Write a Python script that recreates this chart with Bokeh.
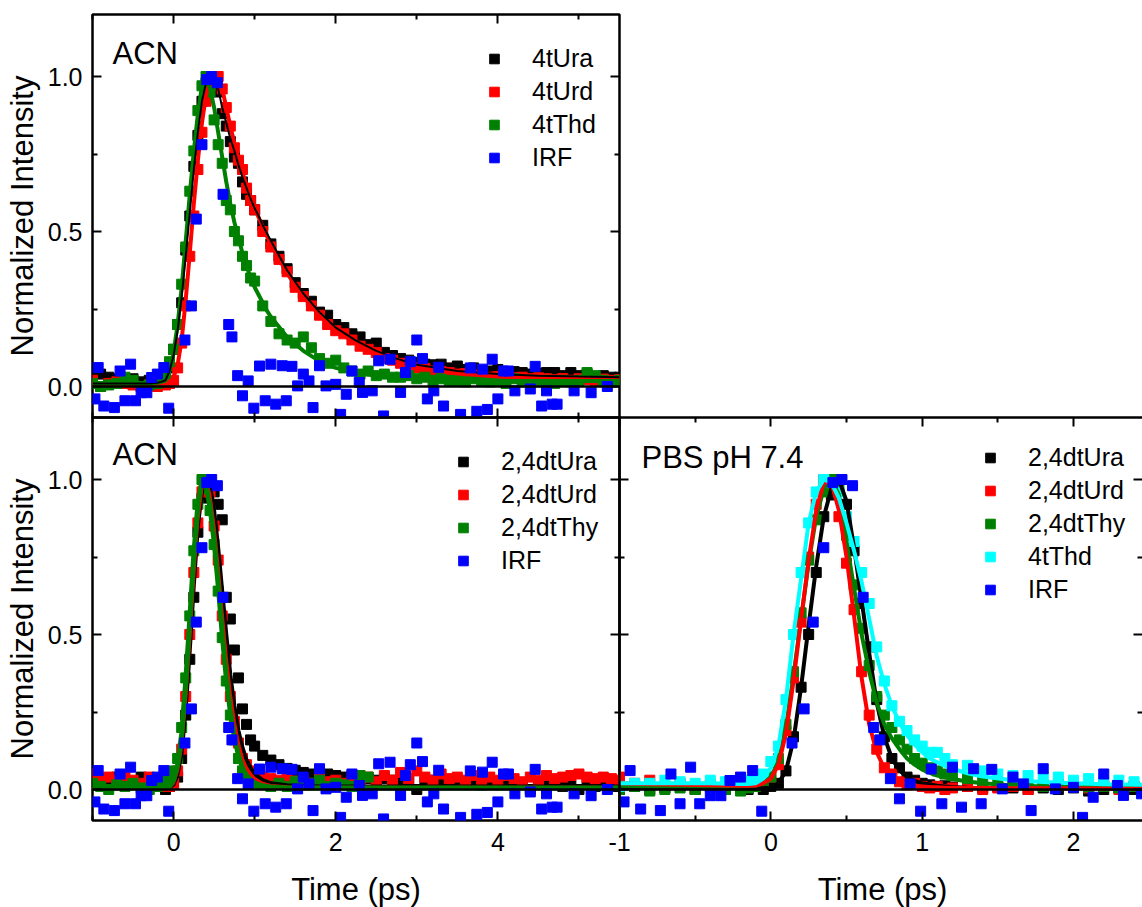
import math
from bokeh.plotting import figure
from bokeh.models import (Range1d, LinearAxis, FixedTicker, PrintfTickFormatter,
                          CustomJSTickFormatter, Span, Label, Legend, LegendItem, GridBox, Column)
from bokeh.embed import file_html
from bokeh.resources import INLINE

# ---------------- data ----------------
# time grid of the measured points, left-hand panels (ps)
TIME_L = [-1.0, -0.9, -0.8, -0.7, -0.6, -0.5, -0.4, -0.3, -0.2,
          -0.15, -0.1, -0.05, 0.0, 0.05, 0.1, 0.15, 0.2, 0.25, 0.3, 0.35, 0.4, 0.45, 0.5,
          0.55, 0.6, 0.65, 0.7, 0.75, 0.8, 0.85, 0.9, 0.95, 1.0,
          1.1, 1.2, 1.3, 1.4, 1.5, 1.6, 1.7, 1.8, 1.9, 2.0, 2.1, 2.2, 2.3, 2.4, 2.5, 2.6, 2.7,
          2.8, 2.9, 3.0, 3.1, 3.2, 3.3, 3.4, 3.5, 3.6, 3.7, 3.8, 3.9, 4.0, 4.1, 4.2, 4.3, 4.4,
          4.5, 4.6, 4.7, 4.8, 4.9, 5.0, 5.1, 5.2, 5.3, 5.4, 5.5]

# top-left panel (ACN)
TL_4tUra = [0.045, 0.04, 0.03, 0.025, 0.02, 0.025, 0.015, 0.02, 0.01,
            0.025, 0.02, 0.06, 0.12, 0.2, 0.27, 0.44, 0.55, 0.71, 0.81, 0.92, 0.98, 1.0, 0.98,
            0.95, 0.88, 0.84, 0.79, 0.74, 0.72, 0.66, 0.62, 0.6, 0.57,
            0.52, 0.46, 0.42, 0.38, 0.335, 0.3, 0.275, 0.24, 0.23, 0.2, 0.19, 0.17, 0.16, 0.135,
            0.14, 0.11, 0.1, 0.09, 0.085, 0.078, 0.072, 0.07, 0.072, 0.06, 0.066, 0.055, 0.06,
            0.05, 0.05, 0.055, 0.045, 0.048, 0.045, 0.04, 0.042, 0.045, 0.045, 0.035, 0.045,
            0.035, 0.04, 0.03, 0.035, 0.03, 0.03]
TL_4tUrd = [0.02, 0.0, 0.01, 0.015, 0.01, 0.005, 0.0, 0.005, 0.0,
            0.01, 0.005, 0.01, 0.02, 0.06, 0.14, 0.26, 0.42, 0.55, 0.7, 0.82, 0.92, 0.97, 1.0,
            1.0, 0.96, 0.9, 0.84, 0.77, 0.73, 0.7, 0.64, 0.6, 0.57,
            0.5, 0.45, 0.41, 0.37, 0.32, 0.29, 0.26, 0.23, 0.2, 0.18, 0.17, 0.15, 0.13, 0.12,
            0.11, 0.09, 0.085, 0.075, 0.07, 0.06, 0.058, 0.05, 0.048, 0.045, 0.04, 0.042, 0.035,
            0.038, 0.03, 0.032, 0.03, 0.028, 0.03, 0.025, 0.028, 0.025, 0.022, 0.026, 0.02,
            0.025, 0.022, 0.02, 0.024, 0.02, 0.022]
TL_4tThd = [0.01, 0.0, 0.005, 0.01, 0.03, 0.02, 0.0, 0.005, 0.01,
            0.02, 0.04, 0.08, 0.12, 0.2, 0.33, 0.45, 0.63, 0.76, 0.89, 0.97, 1.0, 0.95, 0.86,
            0.78, 0.72, 0.6, 0.57, 0.5, 0.47, 0.42, 0.39, 0.35, 0.34,
            0.26, 0.21, 0.17, 0.15, 0.14, 0.16, 0.125, 0.09, 0.075, 0.085, 0.06, 0.05, 0.04, 0.05,
            0.035, 0.04, 0.03, 0.03, 0.035, 0.025, 0.03, 0.02, 0.025, 0.02, 0.02, 0.015, 0.025,
            0.02, 0.015, 0.02, 0.01, 0.025, 0.015, 0.02, 0.015, 0.02, 0.01, 0.02, 0.015, 0.02,
            0.045, 0.035, 0.02, 0.015, 0.02]

# bottom-left panel (ACN)
BL_24dtUra = [0.03, 0.02, 0.025, 0.04, 0.03, 0.02, 0.04, 0.03, 0.01,
              0.02, 0.0, 0.01, 0.02, 0.04, 0.1, 0.24, 0.42, 0.62, 0.83, 0.94, 0.99, 1.0, 0.96,
              0.92, 0.87, 0.62, 0.55, 0.45, 0.36, 0.26, 0.21, 0.16, 0.14,
              0.11, 0.095, 0.08, 0.068, 0.062, 0.055, 0.05, 0.06, 0.05, 0.045, 0.04, 0.045, 0.04,
              0.035, 0.03, 0.035, 0.03, 0.025, 0.03, 0.0, 0.025, 0.03, 0.02, 0.025, 0.03, 0.02,
              0.025, 0.015, 0.02, 0.02, 0.025, 0.015, 0.02, 0.0, 0.02, 0.015, 0.02, 0.01, 0.015,
              0.0, 0.02, 0.01, 0.015, 0.01, 0.01]
BL_24dtUrd = [0.05, 0.03, 0.04, 0.03, 0.045, 0.03, 0.02, 0.04, 0.035,
              0.02, 0.01, 0.01, 0.02, 0.06, 0.13, 0.3, 0.5, 0.7, 0.86, 0.96, 1.0, 0.96, 0.85,
              0.74, 0.56, 0.42, 0.3, 0.22, 0.15, 0.1, 0.08, 0.06, 0.05,
              0.04, 0.035, 0.03, 0.035, 0.025, 0.03, 0.02, 0.035, 0.025, 0.03, 0.02, 0.035, 0.03,
              0.04, 0.025, 0.045, 0.03, 0.055, 0.035, 0.06, 0.04, 0.03, 0.05, 0.035, 0.04, 0.03,
              0.045, 0.025, 0.04, 0.03, 0.045, 0.035, 0.025, 0.04, 0.03, 0.045, 0.035, 0.04,
              0.045, 0.05, 0.04, 0.035, 0.04, 0.035, 0.03]
BL_24dtThy = [0.02, 0.01, 0.0, 0.015, 0.01, 0.02, 0.005, 0.0, 0.01,
              0.03, 0.02, 0.04, 0.06, 0.1, 0.2, 0.36, 0.56, 0.77, 0.92, 1.0, 0.97, 0.9, 0.79,
              0.64, 0.49, 0.35, 0.24, 0.16, 0.1, 0.06, 0.04, 0.03, 0.02,
              0.015, 0.01, 0.02, 0.01, 0.025, 0.015, 0.02, 0.03, 0.01, 0.02, 0.015, 0.01, 0.045,
              0.04]

# instrument response function (same measurement in all panels)
IRF_T = [-0.97, -0.93, -0.86, -0.73, -0.66, -0.6, -0.53, -0.47, -0.4, -0.33,
         -0.27, -0.2, -0.12, -0.06, 0.14, 0.22, 0.28, 0.35, 0.41, 0.47,
         0.54, 0.61, 0.68, 0.72, 0.79, 0.85, 0.92, 0.99, 1.06, 1.13,
         1.2, 1.26, 1.34, 1.39, 1.46, 1.53, 1.6, 1.67, 1.72, 1.8,
         1.88, 2.0, 2.06, 2.13, 2.2, 2.29, 2.33, 2.45, 2.53, 2.59,
         2.67, 2.8, 2.86, 2.92, 3.0, 3.07, 3.13, 3.21, 3.27, 3.33,
         3.54, 3.66, 3.74, 3.81, 3.87, 3.93, 4.0, 4.07, 4.13, 4.21,
         4.4, 4.46, 4.54, 4.6, 4.67, 4.73, 4.94, 5.15, 5.35]
IRF_V = [-0.04, 0.061, -0.063, -0.068, 0.05, -0.046, 0.072, -0.046, -0.02, -0.02,
         0.029, 0.04, 0.061, -0.07, 0.15, 0.26, 0.54, 0.78, 0.99, 1.0,
         0.98, 0.62, 0.2, 0.16, 0.035, -0.03, 0.018, -0.07, 0.066, -0.046,
         0.072, -0.057, 0.067, -0.046, 0.065, 0.002, 0.04, 0.018, -0.068, 0.067,
         0.002, 0.007, -0.09, -0.025, 0.05, 0.013, -0.019, -0.014, 0.083, -0.095,
         0.088, -0.019, 0.045, 0.08, 0.15, 0.09, -0.04, -0.014, 0.062, -0.063,
         -0.09, 0.06, -0.08, 0.056, -0.074, 0.088, -0.04, 0.05, 0.05, -0.014,
         -0.008, 0.065, -0.063, -0.014, -0.057, -0.057, -0.014, -0.02, 0.0]

# fitted curves, left-hand panels
FIT_T_L = [-1.0, -0.5, -0.3, -0.2,
           -0.15, -0.1, -0.05, 0.0, 0.05, 0.1, 0.15, 0.2, 0.25, 0.3, 0.35, 0.4, 0.45, 0.5,
           0.55, 0.6, 0.65, 0.7, 0.75, 0.8, 0.85, 0.9, 0.95, 1.0, 1.05, 1.1, 1.15, 1.2,
           1.4, 1.6, 1.8, 2.0, 2.25, 2.5, 2.75, 3.0, 3.5, 4.0, 4.5, 5.0, 5.5]
TL_4tUra_FIT = [0.01, 0.01, 0.01, 0.012,
                0.015, 0.02, 0.05, 0.1, 0.18, 0.29, 0.42, 0.56, 0.7, 0.82, 0.92, 0.98, 1.0, 0.99,
                0.96, 0.9, 0.85, 0.8, 0.76, 0.715, 0.675, 0.64, 0.605, 0.575, 0.55, 0.52, 0.495, 0.47,
                0.375, 0.3, 0.24, 0.19, 0.148, 0.115, 0.09, 0.07, 0.05, 0.04, 0.035, 0.032, 0.03]
TL_4tUrd_FIT = [0.005, 0.005, 0.005, 0.005,
                0.005, 0.006, 0.01, 0.03, 0.07, 0.15, 0.28, 0.43, 0.59, 0.73, 0.85, 0.94, 0.985, 1.0,
                0.99, 0.96, 0.9, 0.84, 0.785, 0.735, 0.69, 0.65, 0.61, 0.575, 0.545, 0.515, 0.485, 0.46,
                0.365, 0.29, 0.23, 0.18, 0.14, 0.105, 0.08, 0.062, 0.042, 0.032, 0.027, 0.025, 0.024]
TL_4tThd_FIT = [0.01, 0.01, 0.01, 0.012,
                0.015, 0.02, 0.05, 0.11, 0.2, 0.32, 0.47, 0.62, 0.76, 0.88, 0.97, 1.0, 0.96, 0.9,
                0.82, 0.74, 0.66, 0.59, 0.53, 0.48, 0.43, 0.39, 0.35, 0.32, 0.295, 0.27, 0.245, 0.225,
                0.16, 0.115, 0.082, 0.06, 0.045, 0.035, 0.028, 0.024, 0.02, 0.018, 0.018, 0.018, 0.018]
BL_24dtUra_FIT = [0.005, 0.005, 0.005, 0.005,
                  0.005, 0.005, 0.008, 0.015, 0.05, 0.12, 0.26, 0.45, 0.66, 0.85, 0.96, 1.0, 0.98, 0.9,
                  0.78, 0.64, 0.5, 0.37, 0.27, 0.19, 0.135, 0.095, 0.07, 0.05, 0.04, 0.03, 0.025, 0.02,
                  0.014, 0.011, 0.01, 0.01, 0.01, 0.01, 0.01, 0.01, 0.01, 0.01, 0.01, 0.01, 0.01]
BL_24dtUrd_FIT = [0.005, 0.005, 0.005, 0.005,
                  0.005, 0.005, 0.008, 0.02, 0.06, 0.14, 0.29, 0.48, 0.69, 0.87, 0.97, 1.0, 0.95, 0.85,
                  0.72, 0.57, 0.43, 0.31, 0.22, 0.15, 0.1, 0.068, 0.05, 0.035, 0.027, 0.02, 0.016, 0.013,
                  0.009, 0.008, 0.007, 0.007, 0.007, 0.007, 0.007, 0.007, 0.007, 0.007, 0.007, 0.007, 0.007]
BL_24dtThy_FIT = [0.005, 0.005, 0.005, 0.005,
                  0.005, 0.005, 0.01, 0.03, 0.08, 0.18, 0.35, 0.55, 0.76, 0.92, 1.0, 0.98, 0.91, 0.8,
                  0.66, 0.5, 0.36, 0.25, 0.17, 0.11, 0.07, 0.045, 0.03, 0.022, 0.016, 0.012, 0.01, 0.008,
                  0.005, 0.005, 0.005, 0.005, 0.005, 0.005, 0.005, 0.005, 0.005, 0.005, 0.005, 0.005, 0.005]

# bottom-right panel (PBS pH 7.4)
TIME_R = [-1.0, -0.9, -0.8, -0.7, -0.6, -0.5, -0.4, -0.3, -0.2,
          -0.15, -0.1, -0.05, 0.0, 0.05, 0.1, 0.15, 0.2, 0.25, 0.3, 0.35, 0.4, 0.45, 0.5,
          0.55, 0.6, 0.65, 0.7, 0.75, 0.8, 0.85, 0.9, 0.95, 1.0, 1.05, 1.1, 1.15, 1.2,
          1.3, 1.4, 1.5, 1.6, 1.7, 1.8, 1.9, 2.0, 2.1, 2.2, 2.3, 2.4]
BR_24dtUra = [0.0, 0.01, 0.0, 0.005, 0.01, 0.0, 0.01, 0.0, 0.005,
              0.0, 0.01, 0.0, 0.01, 0.02, 0.06, 0.17, 0.33, 0.5, 0.7, 0.88, 0.95, 1.0, 0.92,
              0.77, 0.6, 0.46, 0.29, 0.17, 0.1, 0.07, 0.04, 0.03, 0.02, 0.015, 0.01, 0.012, 0.008,
              0.01, 0.005, 0.008, 0.005, 0.0, 0.005, 0.0, 0.005, -0.005, 0.0, 0.005, 0.0]
BR_24dtUrd = [0.04, 0.02, 0.03, 0.01, 0.02, 0.0, 0.015, 0.01, 0.025,
              0.01, 0.03, 0.02, 0.04, 0.08, 0.19, 0.36, 0.54, 0.75, 0.92, 1.0, 0.98, 0.88, 0.73,
              0.58, 0.38, 0.24, 0.13, 0.07, 0.05, 0.025, 0.015, 0.02, 0.01, 0.005, 0.01, 0.0, 0.005,
              0.01, 0.0, 0.005, 0.01, 0.0, 0.015, 0.02, 0.01, 0.005, 0.015, 0.0, 0.01]
BR_24dtThy = [0.0, 0.01, -0.005, 0.0, 0.005, 0.0, 0.01, 0.0, -0.005,
              0.005, 0.01, 0.02, 0.04, 0.1, 0.21, 0.38, 0.57, 0.74, 0.87, 0.96, 1.0, 0.97, 0.82,
              0.66, 0.52, 0.4, 0.3, 0.24, 0.2, 0.16, 0.13, 0.1, 0.085, 0.07, 0.06, 0.05, 0.045,
              0.035, 0.03, 0.02, 0.02, 0.015, 0.01, 0.012, 0.01, 0.008, 0.01, 0.005, 0.01]
BR_4tThd = [0.01, 0.02, 0.02, 0.03, 0.025, 0.02, 0.03, 0.025, 0.02,
            0.03, 0.04, 0.05, 0.09, 0.14, 0.29, 0.5, 0.7, 0.86, 0.96, 1.0, 0.99, 0.96, 0.88,
            0.8, 0.7, 0.6, 0.46, 0.35, 0.27, 0.22, 0.19, 0.16, 0.14, 0.12, 0.12, 0.1, 0.08,
            0.078, 0.06, 0.05, 0.045, 0.045, 0.04, 0.04, 0.03, 0.035, 0.025, 0.03, 0.025]

FIT_T_R = [-1.0, -0.8, -0.6, -0.4,
           -0.2, -0.15, -0.1, -0.05, 0.0, 0.05, 0.1, 0.15, 0.2, 0.25, 0.3, 0.35, 0.4, 0.45, 0.5,
           0.55, 0.6, 0.65, 0.7, 0.75, 0.8, 0.85, 0.9, 0.95, 1.0, 1.05, 1.1, 1.15, 1.2,
           1.3, 1.4, 1.6, 1.8, 2.0, 2.2, 2.46]
BR_24dtUra_FIT = [0.004, 0.004, 0.004, 0.004,
                  0.004, 0.004, 0.004, 0.004, 0.006, 0.02, 0.06, 0.16, 0.33, 0.53, 0.72, 0.88, 0.97, 1.0,
                  0.93, 0.78, 0.61, 0.44, 0.28, 0.17, 0.1, 0.062, 0.04, 0.028, 0.02, 0.016, 0.012, 0.01,
                  0.008, 0.006, 0.005, 0.004, 0.004, 0.003, 0.003, 0.003]
BR_24dtUrd_FIT = [0.02, 0.017, 0.015, 0.014,
                  0.012, 0.012, 0.013, 0.02, 0.035, 0.08, 0.18, 0.35, 0.55, 0.74, 0.9, 0.99, 0.99, 0.9,
                  0.75, 0.56, 0.36, 0.21, 0.12, 0.068, 0.04, 0.025, 0.016, 0.012, 0.01, 0.008, 0.007,
                  0.006, 0.006, 0.005, 0.005, 0.004, 0.004, 0.003, 0.003, 0.003]
BR_24dtThy_FIT = [0.012, 0.01, 0.01, 0.01,
                  0.01, 0.011, 0.013, 0.02, 0.04, 0.09, 0.2, 0.37, 0.55, 0.73, 0.88, 0.97, 1.0, 0.95,
                  0.8, 0.65, 0.5, 0.38, 0.28, 0.21, 0.165, 0.13, 0.1, 0.08, 0.064, 0.054, 0.045, 0.039,
                  0.034, 0.026, 0.02, 0.013, 0.01, 0.008, 0.007, 0.006]
BR_4tThd_FIT = [0.02, 0.02, 0.02, 0.02,
                0.018, 0.018, 0.02, 0.035, 0.07, 0.14, 0.29, 0.5, 0.68, 0.86, 0.96, 1.0, 0.99, 0.94,
                0.86, 0.77, 0.67, 0.55, 0.43, 0.34, 0.27, 0.215, 0.175, 0.145, 0.12, 0.1, 0.088, 0.076,
                0.067, 0.052, 0.042, 0.03, 0.024, 0.02, 0.017, 0.015]

X_TICKS_L = [0, 2, 4]
X_MINOR_L = [-1, 1, 3, 5]
X_TICKS_R = [-1, 0, 1, 2]
X_MINOR_R = [-0.5, 0.5, 1.5]
Y_TICKS = [0.0, 0.5, 1.0]
Y_MINOR = [0.25, 0.75]

# ---------------- styling ----------------
FONT = "Liberation Sans"
W, H = 1142, 907
BLACK, RED, GREEN, BLUE, CYAN = "#000000", "#FF0000", "#008000", "#0000FF", "#00FFFF"
MS = 10
TITLE_SIZE = "31px"

INT_FMT = CustomJSTickFormatter(code="return String(Math.round(tick));")
Y_FMT = PrintfTickFormatter(format="%.1f")


def make_panel(xr, left, top, fw, fh, outline=True):
    p = figure(x_range=Range1d(*xr), y_range=Range1d(-0.1, 1.2),
               frame_width=fw, frame_height=fh,
               output_backend="svg", toolbar_location=None,
               x_axis_location=None, y_axis_location=None)
    p.min_border_left = left
    p.min_border_top = top
    p.min_border_right = W - left - fw
    p.min_border_bottom = H - top - fh
    p.xgrid.visible = False
    p.ygrid.visible = False
    p.background_fill_alpha = 0
    p.border_fill_alpha = 0
    if outline:
        p.outline_line_color = "black"
        p.outline_line_width = 2.5
        p.outline_line_alpha = 1
    else:
        p.outline_line_color = None
    p.add_layout(Span(location=0, dimension="width", line_color="black", line_width=2.5))
    return p


def add_axis(p, side, ticks, minor, formatter=None, line=False):
    ax = LinearAxis(ticker=FixedTicker(ticks=ticks, minor_ticks=minor))
    ax.major_tick_in = 9
    ax.major_tick_out = 0
    ax.minor_tick_in = 5
    ax.minor_tick_out = 0
    ax.major_tick_line_width = 2
    ax.minor_tick_line_width = 2
    ax.major_tick_line_color = "black"
    ax.minor_tick_line_color = "black"
    ax.axis_line_width = 2.5
    ax.axis_line_color = "black" if line else None
    if formatter is None:
        ax.formatter = CustomJSTickFormatter(code="return '';")
        ax.major_label_standoff = 0
    else:
        ax.formatter = formatter
        ax.major_label_text_font = FONT
        ax.major_label_text_font_size = "25px"
        ax.major_label_text_color = "black"
        ax.major_label_standoff = 10 if side == "left" else 12
    p.add_layout(ax, side)
    return ax


def add_legend(p, entries, loc):
    items = [LegendItem(label=name, renderers=[r]) for name, r in entries]
    lg = Legend(items=items, location=loc)
    lg.label_text_font = FONT
    lg.label_text_font_size = "25px"
    lg.label_text_color = "black"
    lg.glyph_width = 24
    lg.glyph_height = 33
    lg.label_height = 33
    lg.spacing = 0
    lg.padding = 0
    lg.margin = 0
    lg.label_standoff = 26
    lg.border_line_alpha = 0
    lg.background_fill_alpha = 0
    p.add_layout(lg)


def add_text(p, x, y, text, align="left", angle=0.0):
    # x, y: screen pixels from the frame's bottom-left corner (vertical middle of the text)
    p.add_layout(Label(x=x, y=y, x_units="screen", y_units="screen", text=text, angle=angle,
                       text_font=FONT, text_font_size=TITLE_SIZE, text_color="black",
                       text_align=align, text_baseline="middle"))


# ---------------- top-left ----------------
p1 = make_panel((-1, 5.5), 92, 14, 527, 403)
add_axis(p1, "below", X_TICKS_L, X_MINOR_L)
add_axis(p1, "above", X_TICKS_L, X_MINOR_L)
add_axis(p1, "left", Y_TICKS, Y_MINOR, Y_FMT)
add_axis(p1, "right", Y_TICKS, Y_MINOR)
a1 = p1.scatter(TIME_L, TL_4tUra, marker="square", size=MS, color=BLACK)
b1 = p1.scatter(TIME_L, TL_4tUrd, marker="square", size=MS, color=RED)
c1 = p1.scatter(TIME_L, TL_4tThd, marker="square", size=MS, color=GREEN)
p1.line(FIT_T_L, TL_4tUrd_FIT, line_color=RED, line_width=4)
p1.line(FIT_T_L, TL_4tThd_FIT, line_color=GREEN, line_width=4)
p1.line(FIT_T_L, TL_4tUra_FIT, line_color=BLACK, line_width=2)
d1 = p1.scatter(IRF_T, IRF_V, marker="square", size=MS, color=BLUE)
add_legend(p1, [("4tUra", a1), ("4tUrd", b1), ("4tThd", c1), ("IRF", d1)], (390, 243.5))
add_text(p1, 20, 364, "ACN")

# ---------------- bottom-left ----------------
p2 = make_panel((-1, 5.5), 92, 417, 527, 403)
add_axis(p2, "below", X_TICKS_L, X_MINOR_L, INT_FMT)
add_axis(p2, "above", X_TICKS_L, X_MINOR_L)
add_axis(p2, "left", Y_TICKS, Y_MINOR, Y_FMT)
add_axis(p2, "right", Y_TICKS, Y_MINOR)
a2 = p2.scatter(TIME_L, BL_24dtUra, marker="square", size=MS, color=BLACK)
b2 = p2.scatter(TIME_L, BL_24dtUrd, marker="square", size=MS, color=RED)
c2 = p2.scatter(TIME_L[:len(BL_24dtThy)], BL_24dtThy, marker="square", size=MS, color=GREEN)
p2.line(FIT_T_L, BL_24dtUra_FIT, line_color=BLACK, line_width=4)
p2.line(FIT_T_L, BL_24dtUrd_FIT, line_color=RED, line_width=3)
p2.line(FIT_T_L, BL_24dtThy_FIT, line_color=GREEN, line_width=5)
d2 = p2.scatter(IRF_T, IRF_V, marker="square", size=MS, color=BLUE)
add_legend(p2, [("2,4dtUra", a2), ("2,4dtUrd", b2), ("2,4dtThy", c2), ("IRF", d2)], (359, 243.5))
add_text(p2, 20, 366, "ACN")

# ---------------- bottom-right ----------------
p3 = make_panel((-1, 2.456), 619, 417, 523, 403, outline=False)
add_axis(p3, "below", X_TICKS_R, X_MINOR_R, INT_FMT, line=True)
add_axis(p3, "above", X_TICKS_R, X_MINOR_R, line=True)
add_axis(p3, "left", Y_TICKS, Y_MINOR, line=True)
add_axis(p3, "right", Y_TICKS, Y_MINOR)
a3 = p3.scatter(TIME_R, BR_24dtUra, marker="square", size=MS, color=BLACK)
b3 = p3.scatter(TIME_R, BR_24dtUrd, marker="square", size=MS, color=RED)
c3 = p3.scatter(TIME_R, BR_24dtThy, marker="square", size=MS, color=GREEN)
e3 = p3.scatter(TIME_R, BR_4tThd, marker="square", size=MS, color=CYAN)
p3.line(FIT_T_R, BR_24dtUra_FIT, line_color=BLACK, line_width=4)
p3.line(FIT_T_R, BR_24dtThy_FIT, line_color=GREEN, line_width=4)
p3.line(FIT_T_R, BR_24dtUrd_FIT, line_color=RED, line_width=4)
p3.line(FIT_T_R, BR_4tThd_FIT, line_color=CYAN, line_width=4)
d3 = p3.scatter(IRF_T, IRF_V, marker="square", size=MS, color=BLUE)
add_legend(p3, [("2,4dtUra", a3), ("2,4dtUrd", b3), ("2,4dtThy", c3), ("4tThd", e3), ("IRF", d3)],
           (359, 214.5))
add_text(p3, 22, 363, "PBS pH 7.4")

# ---------------- axis titles: a transparent full-window layer ----------------
p0 = figure(x_range=Range1d(0, 1), y_range=Range1d(0, 1), frame_width=W, frame_height=H,
            output_backend="svg", toolbar_location=None,
            x_axis_location=None, y_axis_location=None)
p0.min_border = 0
p0.xgrid.visible = False
p0.ygrid.visible = False
p0.background_fill_alpha = 0
p0.border_fill_alpha = 0
p0.outline_line_color = None
add_text(p0, 22, H - 215.5, "Normalized Intensity", align="center", angle=math.pi / 2)
add_text(p0, 22, H - 618.5, "Normalized Intensity", align="center", angle=math.pi / 2)
add_text(p0, 355.5, H - 889, "Time (ps)", align="center")
add_text(p0, 882, H - 889, "Time (ps)", align="center")

# the panels are stacked in one grid cell, each inside its own column,
# so that every panel keeps its own frame position
layout = GridBox(children=[(Column(children=[p1]), 0, 0),
                           (Column(children=[p2]), 0, 0),
                           (Column(children=[p3]), 0, 0),
                           (Column(children=[p0]), 0, 0)])

with open("out.html", "w") as f:
    f.write(file_html(layout, INLINE))
